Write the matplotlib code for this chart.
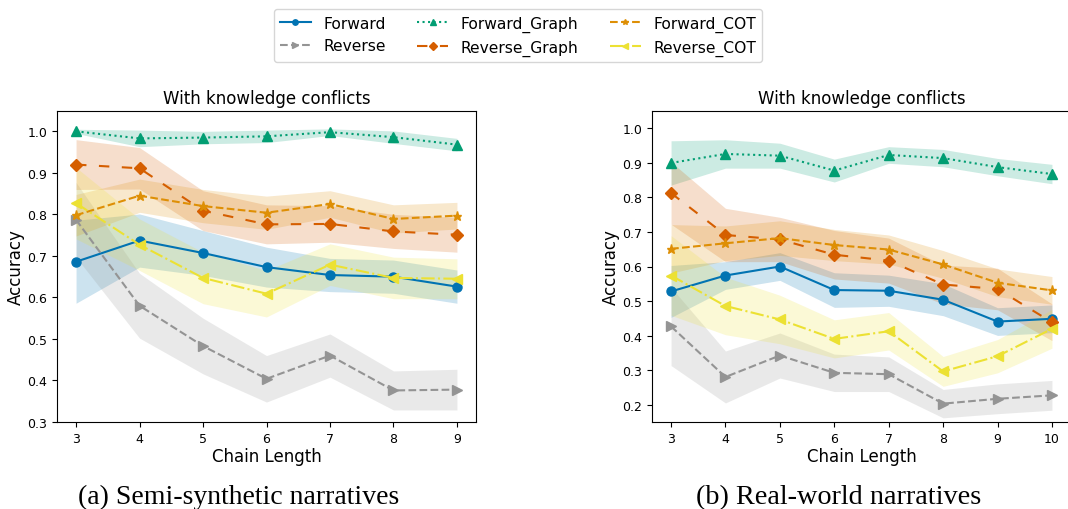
import numpy as np
import matplotlib.pyplot as plt

# chain lengths
x_a = [3, 4, 5, 6, 7, 8, 9]
x_b = [3, 4, 5, 6, 7, 8, 9, 10]

# (a) semi-synthetic narratives: means and band half-widths
fwd_a = [0.686, 0.737, 0.707, 0.673, 0.654, 0.650, 0.626]
fwd_a_err = [0.10, 0.064, 0.054, 0.048, 0.040, 0.040, 0.040]
rev_a = [0.787, 0.580, 0.483, 0.404, 0.460, 0.376, 0.378]
rev_a_err = [0.09, 0.078, 0.067, 0.056, 0.052, 0.047, 0.049]
fg_a = [1.000, 0.983, 0.985, 0.988, 0.998, 0.986, 0.968]
fg_a_err = [0.005, 0.020, 0.015, 0.015, 0.008, 0.015, 0.015]
rg_a = [0.920, 0.911, 0.809, 0.776, 0.777, 0.759, 0.751]
rg_a_err = [0.060, 0.050, 0.048, 0.047, 0.044, 0.041, 0.042]
fc_a = [0.798, 0.845, 0.820, 0.804, 0.825, 0.789, 0.797]
fc_a_err = [0.050, 0.040, 0.040, 0.040, 0.032, 0.034, 0.032]
rc_a = [0.827, 0.727, 0.647, 0.609, 0.679, 0.647, 0.645]
rc_a_err = [0.086, 0.062, 0.062, 0.056, 0.050, 0.050, 0.048]

# (b) real-world narratives
fwd_b = [0.528, 0.574, 0.600, 0.532, 0.530, 0.504, 0.441, 0.449]
fwd_b_err = [0.075, 0.040, 0.040, 0.050, 0.045, 0.046, 0.040, 0.040]
rev_b = [0.427, 0.281, 0.343, 0.293, 0.289, 0.204, 0.218, 0.228]
rev_b_err = [0.113, 0.075, 0.065, 0.054, 0.050, 0.041, 0.043, 0.043]
fg_b = [0.899, 0.925, 0.920, 0.877, 0.922, 0.913, 0.887, 0.867]
fg_b_err = [0.064, 0.041, 0.036, 0.033, 0.024, 0.025, 0.025, 0.028]
rg_b = [0.812, 0.691, 0.678, 0.634, 0.617, 0.548, 0.535, 0.439]
rg_b_err = [0.090, 0.077, 0.064, 0.070, 0.065, 0.056, 0.060, 0.053]
fc_b = [0.651, 0.667, 0.682, 0.662, 0.649, 0.606, 0.553, 0.531]
fc_b_err = [0.070, 0.050, 0.050, 0.045, 0.042, 0.040, 0.040, 0.040]
rc_b = [0.574, 0.486, 0.447, 0.391, 0.413, 0.297, 0.341, 0.420]
rc_b_err = [0.115, 0.083, 0.070, 0.055, 0.054, 0.043, 0.048, 0.056]

styles = [
    ('Forward', '#0173b2', '-', 'o'),
    ('Reverse', '#949494', '--', '>'),
    ('Forward_Graph', '#029e73', ':', '^'),
    ('Reverse_Graph', '#d55e00', (0, (5, 6)), 'D'),
    ('Forward_COT', '#de8f05', '--', '*'),
    ('Reverse_COT', '#ece133', '-.', '<'),
]

data_a = [(fwd_a, fwd_a_err), (rev_a, rev_a_err), (fg_a, fg_a_err),
          (rg_a, rg_a_err), (fc_a, fc_a_err), (rc_a, rc_a_err)]
data_b = [(fwd_b, fwd_b_err), (rev_b, rev_b_err), (fg_b, fg_b_err),
          (rg_b, rg_b_err), (fc_b, fc_b_err), (rc_b, rc_b_err)]

fig = plt.figure(figsize=(10.68, 5.10), dpi=100)
ax1 = fig.add_axes([57 / 1068, 1 - 423 / 510, 419 / 1068, 311 / 510])
ax2 = fig.add_axes([652 / 1068, 1 - 423 / 510, 419 / 1068, 311 / 510])


def draw(ax, x, data):
    for (name, color, ls, mk), (m, e) in zip(styles, data):
        m = np.array(m)
        e = np.array(e)
        ax.plot(x, m, color=color, linestyle=ls, marker=mk, markersize=6.5,
                linewidth=1.5, label=name)
        ax.fill_between(x, m - e, m + e, color=color, alpha=0.2, linewidth=0)
    ax.set_xticks(x)
    ax.set_title('With knowledge conflicts', fontsize=12)
    ax.set_xlabel('Chain Length', fontsize=12, labelpad=2)
    ax.set_ylabel('Accuracy', fontsize=12, labelpad=2)
    ax.tick_params(labelsize=9)


draw(ax1, x_a, data_a)
draw(ax2, x_b, data_b)
ax1.set_ylim(0.3, 1.049)
ax2.set_ylim(0.151, 1.049)

handles, labels = ax1.get_legend_handles_labels()
fig.legend(handles, labels, loc='upper center', bbox_to_anchor=(0.485, 0.995),
           ncol=3, fontsize=11.2, markerscale=0.6)

fig.text(0.223, 0.025, '(a) Semi-synthetic narratives', ha='center', va='center',
         fontsize=20, family='Liberation Serif')
fig.text(0.785, 0.025, '(b) Real-world narratives', ha='center', va='center',
         fontsize=20.3, family='Liberation Serif')

fig.savefig('out.png', dpi=100)
